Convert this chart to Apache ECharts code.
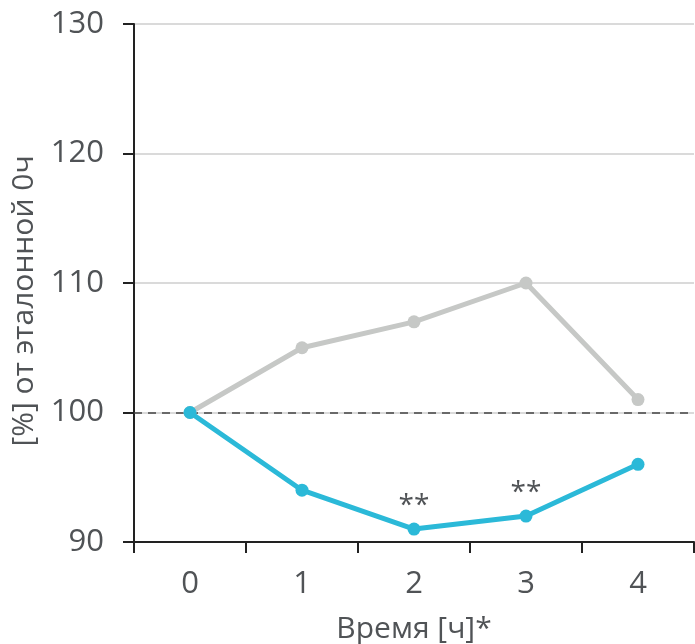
<!DOCTYPE html>
<html><head><meta charset="utf-8">
<script src="https://cdn.jsdelivr.net/npm/echarts@6/dist/echarts.min.js"></script>
<style>html,body{margin:0;padding:0;background:#fff}#c{width:695px;height:644px}</style>
</head><body><div id="c"></div>
<script>
const categories = ['0', '1', '2', '3', '4'];
const greyValues = [100, 105, 107, 110, 101];
const blueValues = [100, 94, 91, 92, 96];
const blueMarks = ['', '', '**', '**', ''];
const yTicks = [90, 100, 110, 120, 130];
const xTitle = 'Время [ч]*';
const yTitle = '[%] от эталонной 0ч';

const font = 'Open Sans';
const txt = '#505356';
const chart = echarts.init(document.getElementById('c'));
chart.setOption({
  animation: false,
  grid: { left: 134, right: 1, top: 24, bottom: 102, containLabel: false, outerBoundsMode: 'none' },
  xAxis: {
    type: 'category', data: categories, boundaryGap: true,
    name: xTitle, nameLocation: 'middle', nameGap: 72,
    nameTextStyle: { fontFamily: font, fontSize: 30, color: txt },
    axisLine: { lineStyle: { color: '#222', width: 2 } },
    axisTick: { show: true, length: 11, lineStyle: { color: '#222', width: 2 } },
    axisLabel: { fontFamily: font, fontSize: 31, color: txt, margin: 27 }
  },
  yAxis: {
    type: 'value', min: yTicks[0], max: yTicks[yTicks.length - 1], interval: 10,
    name: yTitle, nameLocation: 'middle', nameGap: 91, nameRotate: 90,
    nameTextStyle: { fontFamily: font, fontSize: 30, color: txt, padding: [0, 36, 0, 0] },
    axisLine: { show: true, lineStyle: { color: '#222', width: 2 } },
    axisTick: { show: true, length: 11, lineStyle: { color: '#222', width: 2 } },
    axisLabel: { fontFamily: font, fontSize: 31, color: txt, margin: 30 },
    splitLine: { show: true, lineStyle: { color: '#dadada', width: 2 } }
  },
  series: [
    {
      type: 'line', data: greyValues, symbol: 'circle', symbolSize: 13,
      lineStyle: { color: '#c6c8c6', width: 5 }, itemStyle: { color: '#c6c8c6' }, z: 2
    },
    {
      type: 'line', symbol: 'circle', symbolSize: 13,
      data: blueValues.map((v, i) => ({ value: v, label: { show: blueMarks[i] !== '', formatter: blueMarks[i] } })),
      label: { position: 'top', distance: 3, fontFamily: font, fontSize: 28, color: txt },
      lineStyle: { color: '#2bb9d8', width: 5 }, itemStyle: { color: '#2bb9d8' }, z: 3,
      markLine: {
        symbol: 'none', silent: true, label: { show: false },
        lineStyle: { color: '#444', type: [8, 6], width: 1.5 },
        data: [{ yAxis: 100 }], z: 1
      }
    }
  ]
});
</script></body></html>
